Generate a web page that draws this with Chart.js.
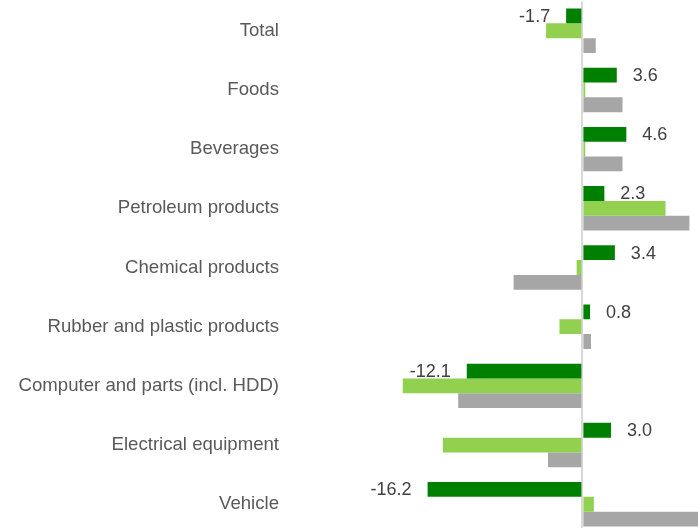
<!DOCTYPE html>
<html>
<head>
<meta charset="utf-8">
<script src="https://cdn.jsdelivr.net/npm/chart.js"></script>
<style>
  html, body { margin: 0; padding: 0; background: #fff; overflow: hidden; }
  #wrap { position: absolute; left: 0; top: -21px; width: 698px; height: 577px; }
</style>
</head>
<body>
<div id="wrap"><canvas id="chart"></canvas></div>
<script>
// Categories and series values
const categories = ['Total', 'Foods', 'Beverages', 'Petroleum products', 'Chemical products',
    'Rubber and plastic products', 'Computer and parts (incl. HDD)', 'Electrical equipment', 'Vehicle'];
const seriesA = [-1.7, 3.6, 4.6, 2.3, 3.4, 0.8, -12.1, 3.0, -16.2];   // dark green, labelled
const seriesB = [-3.8, 0.3, 0.3, 8.7, -0.6, -2.4, -18.8, -14.6, 1.2]; // light green
const seriesC = [1.4, 4.2, 4.2, 11.2, -7.2, 0.9, -13.0, -3.6, 14.0];  // gray

// Value labels for the dark green series, placed a fixed gap beyond the bar end
const valueLabels = {
    id: 'valueLabels',
    afterDatasetsDraw(chart) {
        const ctx = chart.ctx;
        const meta = chart.getDatasetMeta(0);
        ctx.save();
        ctx.font = '18px "Liberation Sans", Arial, sans-serif';
        ctx.fillStyle = '#404040';
        ctx.textBaseline = 'middle';
        meta.data.forEach((bar, i) => {
            const v = seriesA[i];
            if (v >= 0) {
                ctx.textAlign = 'left';
                ctx.fillText(v.toFixed(1), bar.x + 16, bar.y + 1);
            } else {
                ctx.textAlign = 'right';
                ctx.fillText(v.toFixed(1), bar.x - 16, bar.y + 1);
            }
        });
        ctx.restore();
    }
};

new Chart(document.getElementById('chart').getContext('2d'), {
    type: 'bar',
    data: {
        labels: categories,
        datasets: [
            { data: seriesA, backgroundColor: '#008000' },
            { data: seriesB, backgroundColor: '#92d050' },
            { data: seriesC, backgroundColor: '#a6a6a6' }
        ]
    },
    options: {
        indexAxis: 'y',
        responsive: true,
        maintainAspectRatio: false,
        animation: false,
        layout: { padding: 0 },
        datasets: { bar: { categoryPercentage: 0.75, barPercentage: 1 } },
        plugins: { legend: { display: false }, tooltip: { enabled: false } },
        scales: {
            x: {
                min: -30.6,
                max: 12.1,
                ticks: { display: false },
                border: { display: false },
                afterBuildTicks: (scale) => { scale.ticks = [{ value: 0 }]; },
                grid: { color: '#d9d9d9', lineWidth: 2, drawTicks: false }
            },
            y: {
                afterFit: (scale) => { scale.width = 290; },
                grid: { display: false, drawTicks: false },
                border: { display: false },
                ticks: {
                    padding: 11,
                    color: '#595959',
                    font: { family: '"Liberation Sans", Arial, sans-serif', size: 18.6 }
                }
            }
        }
    },
    plugins: [valueLabels]
});
</script>
</body>
</html>
